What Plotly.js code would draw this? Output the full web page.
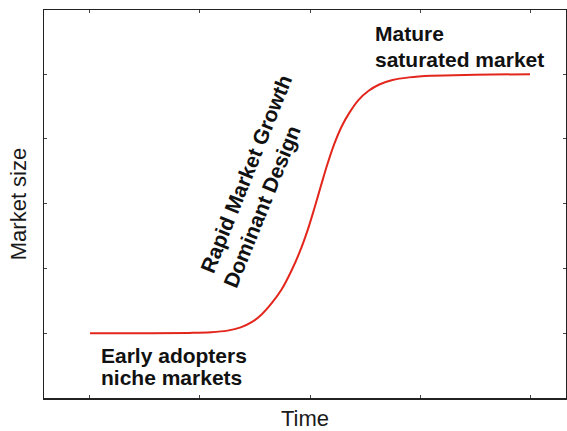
<!DOCTYPE html>
<html>
<head>
<meta charset="utf-8">
<script src="https://cdn.plot.ly/plotly-3.0.1.min.js"></script>
<style>
  html, body { margin: 0; padding: 0; background: #fff; }
  #chart { width: 567px; height: 431px; }
</style>
</head>
<body>
<div id="chart"></div>
<script>
// S-curve of market size over time
const timeX = [0, 0.55, 0.9, 1.1, 1.25, 1.37, 1.47, 1.56, 1.65, 1.74, 1.83, 1.91, 1.98, 2.04, 2.1, 2.16, 2.22, 2.29, 2.36, 2.44, 2.53, 2.63, 2.75, 2.9, 3.1, 3.5, 4.0];
const marketSize = [1.0, 1.0, 1.005, 1.015, 1.04, 1.09, 1.17, 1.29, 1.46, 1.67, 1.96, 2.27, 2.6, 2.93, 3.28, 3.62, 3.92, 4.2, 4.41, 4.6, 4.74, 4.84, 4.91, 4.95, 4.975, 4.99, 5.0];

const xTicks = [0, 1, 2, 3, 4];
const yTicks = [1, 2, 3, 4, 5];

// phase labels: text, x, y, anchor, angle
const labelText = ['Mature', 'saturated market', 'Early adopters', 'niche markets', 'Rapid Market Growth', 'Dominant Design'];
const labelX = [2.575, 2.575, 0.085, 0.085, 1.418, 1.564];
const labelY = [5.62, 5.23, 0.65, 0.31, 3.47, 2.95];
const labelAnchor = ['left', 'left', 'left', 'left', 'center', 'center'];
const labelAngle = [0, 0, 0, 0, -68, -68];

const font = 'Liberation Sans, Arial, Helvetica, sans-serif';

const trace = {
    x: timeX,
    y: marketSize,
    type: 'scatter',
    mode: 'lines',
    line: { color: '#e3261c', width: 2, shape: 'spline', smoothing: 1 },
    hoverinfo: 'skip',
    showlegend: false
};

const annotations = labelText.map((t, i) => ({
    text: t,
    x: labelX[i],
    y: labelY[i],
    xref: 'x',
    yref: 'y',
    xanchor: labelAnchor[i],
    yanchor: 'middle',
    textangle: labelAngle[i],
    showarrow: false,
    font: { family: font, size: 21, color: '#111', weight: 'bold' }
}));

const axisCommon = {
    showgrid: false,
    zeroline: false,
    showline: true,
    linecolor: '#222',
    linewidth: 1.5,
    mirror: 'ticks',
    ticks: 'inside',
    ticklen: 3,
    tickwidth: 1,
    tickcolor: '#444',
    showticklabels: false,
    tickmode: 'array',
    fixedrange: true
};

const layout = {
    width: 567,
    height: 431,
    margin: { l: 44, r: 1, t: 10, b: 33 },
    paper_bgcolor: '#fff',
    plot_bgcolor: '#fff',
    font: { family: font, color: '#1a1a1a' },
    xaxis: Object.assign({}, axisCommon, {
        range: [-0.418, 4.327],
        tickvals: xTicks,
        title: { text: 'Time', font: { size: 22, color: '#1a1a1a' }, standoff: 21 }
    }),
    yaxis: Object.assign({}, axisCommon, {
        range: [0, 5.99],
        tickvals: yTicks,
        title: { text: 'Market size', font: { size: 22, color: '#1a1a1a' }, standoff: 10 }
    }),
    annotations: annotations
};

Plotly.newPlot('chart', [trace], layout, { displayModeBar: false, staticPlot: true });
</script>
</body>
</html>
